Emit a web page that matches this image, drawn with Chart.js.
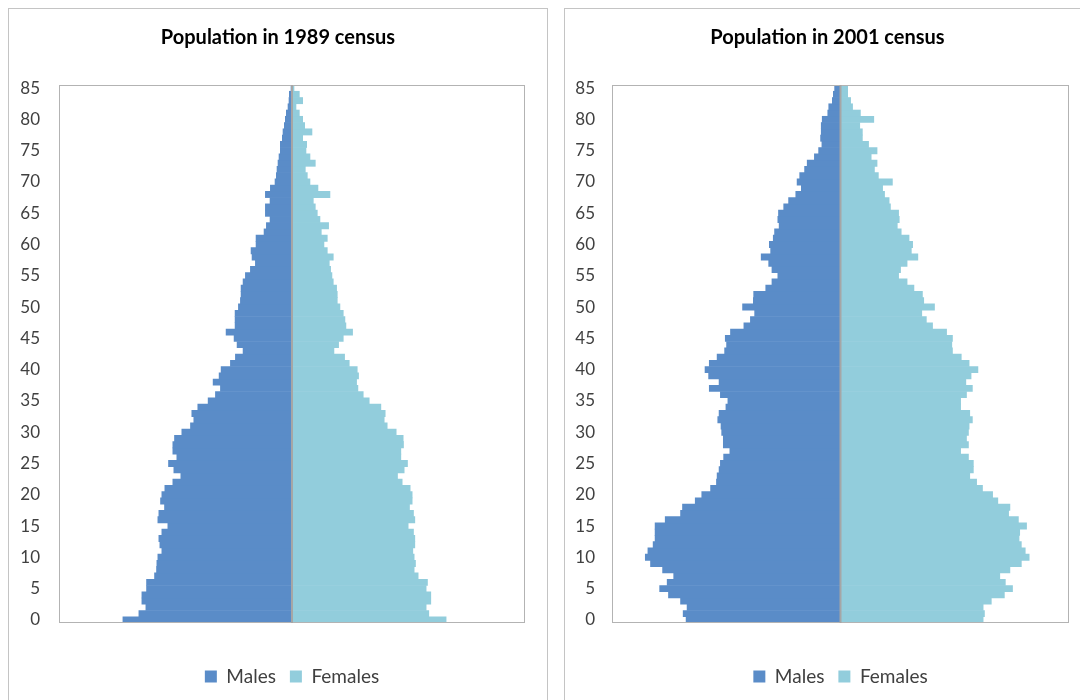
<!DOCTYPE html>
<html>
<head>
<meta charset="utf-8">
<script src="https://cdn.jsdelivr.net/npm/chart.js@4"></script>
<style>
  body { margin: 0; background: #fff; width: 1080px; height: 700px; overflow: hidden; position: relative; }
  .panel { position: absolute; top: 8px; height: 720px; border: 1px solid #c4c4c4; box-sizing: border-box; }
  .panel canvas { position: absolute; left: 0; top: 0; }
</style>
</head>
<body>
<div class="panel" style="left:8px;width:540px"><canvas id="census1989" width="538" height="691"></canvas></div>
<div class="panel" style="left:564px;width:530px"><canvas id="census2001" width="525" height="691"></canvas></div>
<script>
// Single-year ages, thousands of people
const ages = [
  "0","1","2","3","4","5","6","7","8","9","10","11","12","13","14","15","16","17","18","19",
  "20","21","22","23","24","25","26","27","28","29","30","31","32","33","34","35","36","37","38","39",
  "40","41","42","43","44","45","46","47","48","49","50","51","52","53","54","55","56","57","58","59",
  "60","61","62","63","64","65","66","67","68","69","70","71","72","73","74","75","76","77","78","79",
  "80","81","82","83","84","85"
];

const males1989 = [
  50.8, 46.0, 43.9, 45.1, 45.1, 43.7, 43.7, 41.3, 40.7, 40.6,
  40.3, 39.1, 39.7, 40.0, 39.1, 37.3, 40.3, 40.0, 38.3, 39.5,
  39.1, 38.2, 35.8, 33.4, 35.5, 37.1, 34.6, 35.8, 35.8, 35.3,
  33.1, 30.5, 29.5, 30.1, 28.3, 25.2, 23.0, 21.5, 23.7, 21.9,
  21.3, 18.5, 17.0, 14.7, 16.5, 17.4, 19.8, 17.1, 17.1, 17.1,
  16.1, 15.5, 15.3, 15.3, 14.7, 14.0, 12.5, 11.0, 12.0, 12.3,
  10.8, 10.8, 8.4, 7.7, 6.6, 8.0, 8.0, 6.6, 8.0, 6.5,
  5.1, 4.7, 4.5, 4.2, 3.9, 3.5, 3.5, 2.9, 2.7, 2.3,
  2.0, 1.7, 1.2, 0.9, 0.8, 0.3
];
const females1989 = [
  46.3, 41.1, 40.3, 41.7, 41.7, 40.3, 40.7, 37.9, 36.7, 37.1,
  36.7, 36.3, 36.9, 36.9, 36.5, 34.9, 36.9, 36.5, 35.3, 36.1,
  36.1, 35.5, 33.1, 31.7, 33.7, 34.7, 32.7, 32.7, 33.5, 33.4,
  31.3, 28.6, 27.7, 28.0, 26.7, 23.2, 21.4, 19.8, 19.4, 20.0,
  19.6, 17.2, 15.8, 12.6, 14.0, 15.4, 18.2, 16.2, 15.9, 15.4,
  14.4, 13.6, 13.6, 13.4, 12.4, 12.0, 11.6, 11.2, 12.4, 10.6,
  9.6, 10.6, 8.8, 11.0, 8.4, 7.6, 7.0, 6.4, 11.4, 7.8,
  5.4, 4.6, 4.0, 7.0, 5.4, 4.2, 4.4, 3.2, 6.0, 3.8,
  3.2, 2.2, 1.2, 3.2, 2.2, 0.6
];

const males2001 = [
  47.3, 48.2, 47.0, 49.0, 52.7, 55.4, 53.1, 51.1, 54.5, 58.2,
  59.8, 59.0, 57.4, 56.8, 56.8, 56.8, 53.7, 49.0, 48.4, 44.5,
  42.5, 39.8, 38.0, 37.8, 37.2, 36.8, 35.8, 33.9, 35.9, 35.9,
  36.4, 36.6, 37.6, 37.2, 35.1, 34.5, 36.8, 40.2, 37.2, 40.4,
  41.5, 40.2, 37.8, 35.5, 34.9, 35.3, 33.7, 29.6, 27.6, 26.3,
  30.0, 26.7, 26.6, 22.9, 21.0, 19.2, 21.0, 22.0, 24.3, 21.4,
  21.8, 20.6, 20.2, 18.8, 19.2, 19.0, 17.4, 15.9, 13.7, 12.0,
  13.3, 12.5, 11.0, 10.2, 8.0, 6.7, 5.7, 6.1, 5.9, 5.9,
  5.6, 3.9, 3.6, 2.5, 2.2, 1.8
];
const females2001 = [
  43.7, 44.1, 43.7, 46.2, 50.2, 52.7, 50.5, 48.8, 51.9, 55.4,
  57.8, 56.6, 55.4, 54.7, 54.9, 57.0, 54.5, 51.5, 51.9, 48.2,
  46.6, 43.5, 41.7, 39.6, 40.7, 40.7, 39.2, 36.8, 39.2, 38.6,
  39.2, 39.4, 40.4, 39.6, 36.8, 36.8, 38.6, 40.4, 38.4, 40.0,
  42.1, 39.4, 37.0, 34.3, 34.1, 34.3, 32.5, 28.2, 26.3, 24.9,
  28.8, 25.5, 25.1, 22.5, 20.4, 17.8, 18.4, 20.4, 23.7, 21.7,
  22.1, 21.0, 18.6, 17.4, 18.0, 17.8, 15.3, 14.9, 13.5, 12.9,
  15.9, 11.6, 10.4, 11.2, 9.4, 11.2, 8.6, 6.7, 6.7, 5.9,
  10.2, 6.1, 3.7, 3.1, 2.2, 2.2
];

const MALE_COLOR = "#5a8cc8";
const FEMALE_COLOR = "#92cddc";
const TEXT_COLOR = "#404040";

// plot frame plus the zero axis line over the bars
const framePlugin = {
  id: "frame",
  afterDatasetsDraw(chart) {
    const { ctx, chartArea: a, scales } = chart;
    ctx.save();
    ctx.strokeStyle = "#b3b3b3";
    ctx.lineWidth = 1;
    ctx.strokeRect(a.left + 0.5, a.top + 0.5, a.width - 1, a.height - 1);
    const x0 = scales.x.getPixelForValue(0);
    ctx.strokeStyle = "#a6a6a6";
    ctx.lineWidth = 2;
    ctx.beginPath();
    ctx.moveTo(x0, a.top);
    ctx.lineTo(x0, a.bottom);
    ctx.stroke();
    ctx.restore();
  },
};

function makePyramid(id, title, males, females, box) {
  return new Chart(document.getElementById(id), {
    type: "bar",
    data: {
      labels: ages,
      datasets: [
        {
          label: "Males",
          data: males.map((v) => -v),
          backgroundColor: MALE_COLOR,
          borderWidth: 0,
        },
        {
          label: "Females",
          data: females,
          backgroundColor: FEMALE_COLOR,
          borderWidth: 0,
        },
      ],
    },
    options: {
      indexAxis: "y",
      responsive: false,
      animation: false,
      barPercentage: 1,
      categoryPercentage: 1,
      layout: { padding: { left: 0, right: 0, top: 0, bottom: 4 } },
      scales: {
        x: {
          stacked: true,
          min: -70,
          max: 70,
          ticks: { display: false },
          grid: { display: false },
          border: { display: false },
          afterFit(scale) {
            scale.height = 30;
          },
        },
        y: {
          stacked: true,
          reverse: true,
          grid: { display: false, drawTicks: false },
          border: { display: false },
          ticks: {
            autoSkip: false,
            padding: box.tickPad,
            color: TEXT_COLOR,
            font: { family: "Lato", size: 17 },
            callback(value) {
              const age = this.getLabelForValue(value);
              return Number(age) % 5 === 0 ? age : "";
            },
          },
          afterFit(scale) {
            scale.width = box.axisWidth;
          },
        },
        // empty strip on the right so the title centres over the whole panel
        yPad: {
          type: "linear",
          position: "right",
          ticks: { display: false },
          grid: { display: false },
          border: { display: false },
          afterFit(scale) {
            scale.width = box.rightGap;
          },
        },
      },
      plugins: {
        title: {
          display: true,
          text: title,
          color: "#000",
          font: { family: "Lato", size: 20, weight: "bold" },
          padding: { top: 17, bottom: 35 },
        },
        legend: {
          position: "bottom",
          fullSize: false,
          labels: {
            boxWidth: 12,
            boxHeight: 12,
            padding: 14,
            color: TEXT_COLOR,
            font: { family: "Lato", size: 19 },
          },
        },
        tooltip: { enabled: false },
      },
    },
    plugins: [framePlugin],
  });
}

makePyramid("census1989", "Population in 1989 census", males1989, females1989, {
  axisWidth: 50, rightGap: 22, tickPad: 19,
});
makePyramid("census2001", "Population in 2001 census", males2001, females2001, {
  axisWidth: 47, rightGap: 21, tickPad: 17,
});
</script>
</body>
</html>
